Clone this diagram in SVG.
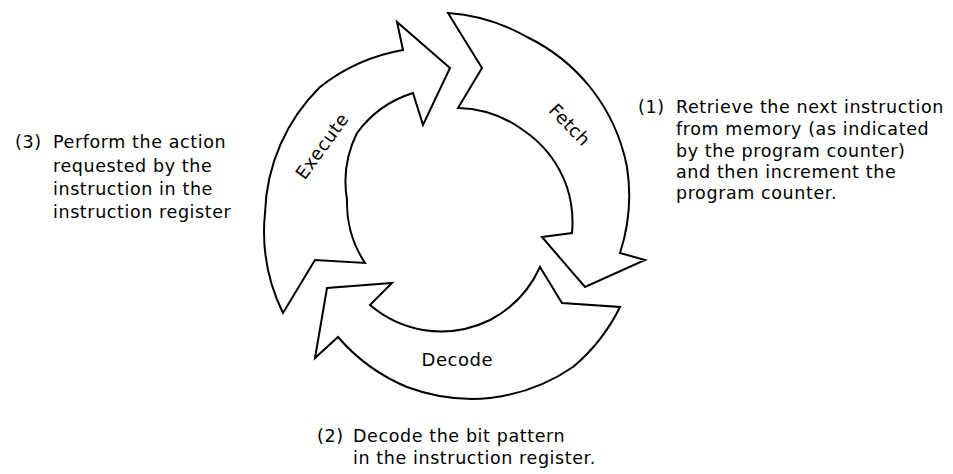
<svg xmlns="http://www.w3.org/2000/svg" width="953" height="474" viewBox="0 0 953 474">
  <style>
    .arrow { fill: #ffffff; stroke: #000000; stroke-width: 2; stroke-linejoin: miter; }
    .t { font-family: "DejaVu Sans", "Open Sans", sans-serif; font-size: 17.5px; letter-spacing: 0.6px; fill: #000000; }
    .lbl { font-family: "DejaVu Sans", "Open Sans", sans-serif; font-size: 18px; fill: #000000; text-anchor: middle; }
  </style>
  <rect width="953" height="474" fill="#ffffff"/>

  <g id="execute">
    <path class="arrow" d="M 283,313 A 185 185 0 0 1 265,213 A 185 185 0 0 1 320,87 A 185 185 0 0 1 403,50 L 397,22 L 450,68 L 423,125 L 413,93 A 110 110 0 0 0 357,133 A 110 110 0 0 0 347,200 A 110 110 0 0 0 365,263 L 315,260 Z"/>
    <text class="lbl" transform="translate(327,150) rotate(-54)" textLength="76" lengthAdjust="spacing">Execute</text>
  </g>

  <g id="fetch">
    <path class="arrow" d="M 448,13 L 482,68 L 458,108 A 115 115 0 0 1 523,130 A 115 115 0 0 1 567,187 A 115 115 0 0 1 572,233 L 542,237 L 585,287 L 645,260 L 620,253 A 185 185 0 0 0 627,167 A 185 185 0 0 0 590,87 A 185 185 0 0 0 527,37 A 185 185 0 0 0 448,13 Z"/>
    <text class="lbl" transform="translate(565,129) rotate(46)" textLength="50" lengthAdjust="spacing">Fetch</text>
  </g>

  <g id="decode">
    <path class="arrow" d="M 540,267 L 562,303 L 620,307 A 185 185 0 0 1 573,367 A 185 185 0 0 1 490,398 A 185 185 0 0 1 407,387 A 185 185 0 0 1 338,337 L 315,358 L 327,288 L 392,283 L 370,305 A 112 112 0 0 0 423,330 A 112 112 0 0 0 490,320 A 112 112 0 0 0 540,267 Z"/>
    <text class="lbl" x="457" y="366" textLength="71" lengthAdjust="spacing">Decode</text>
  </g>

  <g id="connectors"></g>

  <g id="note-fetch">
    <text class="t" x="638" y="113">(1)</text>
    <text class="t" x="676" y="113">Retrieve the next instruction</text>
    <text class="t" x="676" y="135">from memory (as indicated</text>
    <text class="t" x="676" y="156.5">by the program counter)</text>
    <text class="t" x="676" y="177.5">and then increment the</text>
    <text class="t" x="676" y="199">program counter.</text>
  </g>

  <g id="note-execute">
    <text class="t" x="15" y="148">(3)</text>
    <text class="t" x="53" y="148">Perform the action</text>
    <text class="t" x="53" y="171.5">requested by the</text>
    <text class="t" x="53" y="195">instruction in the</text>
    <text class="t" x="53" y="218">instruction register</text>
  </g>

  <g id="note-decode">
    <text class="t" x="317" y="442">(2)</text>
    <text class="t" x="353" y="442">Decode the bit pattern</text>
    <text class="t" x="353" y="464">in the instruction register.</text>
  </g>
</svg>
